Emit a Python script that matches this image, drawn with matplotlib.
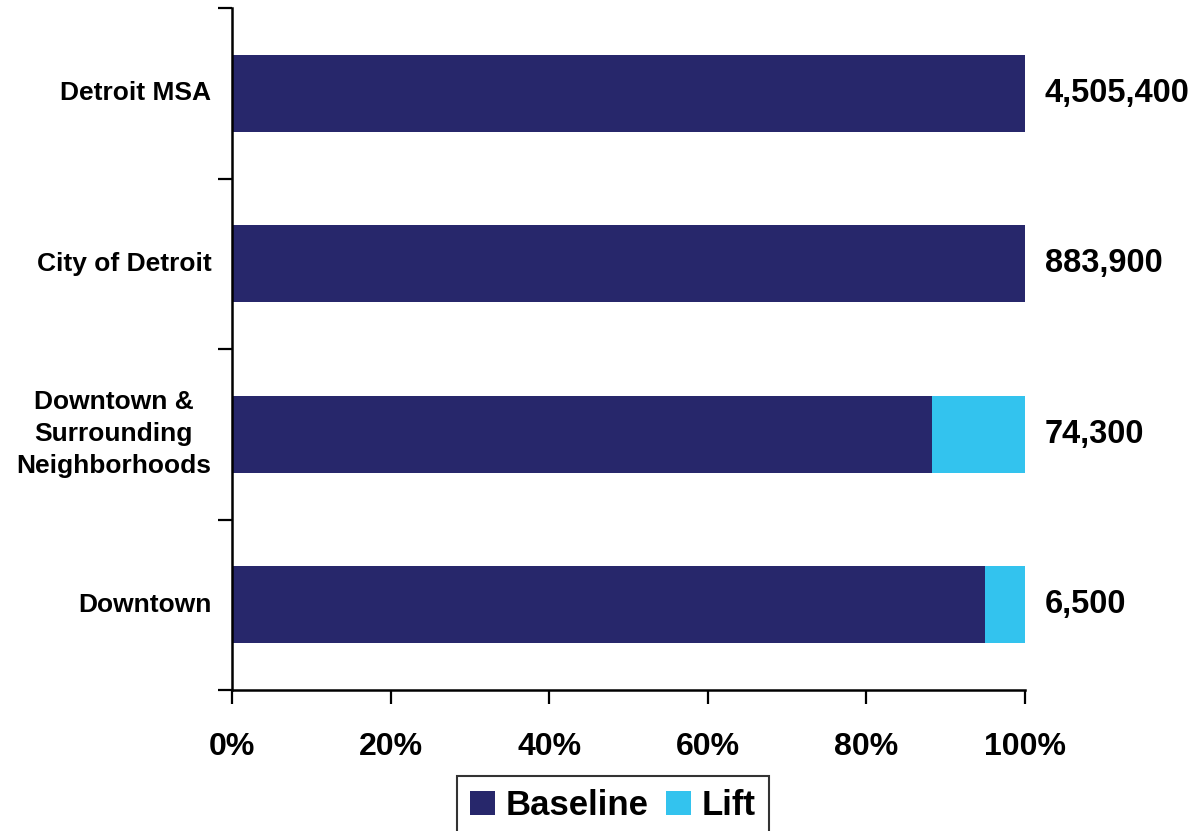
import matplotlib
matplotlib.use("Agg")
import matplotlib.pyplot as plt
from matplotlib.patches import Patch

# Data
categories = ["Downtown", "Downtown &\nSurrounding\nNeighborhoods", "City of Detroit", "Detroit MSA"]
baseline_pct = [95.0, 88.3, 100.0, 100.0]
lift_pct = [5.0, 11.7, 0.0, 0.0]
totals = ["6,500", "74,300", "883,900", "4,505,400"]
x_ticks = [0, 20, 40, 60, 80, 100]
x_tick_labels = ["0%", "20%", "40%", "60%", "80%", "100%"]

BASE_COLOR = "#27276B"
LIFT_COLOR = "#33C3EE"

plt.rcParams["font.family"] = ["Liberation Sans", "DejaVu Sans"]

fig = plt.figure(figsize=(11.94, 8.31), dpi=100)
ax = fig.add_axes([232 / 1194, 1 - 690 / 831, (1025 - 232) / 1194, (690 - 8) / 831])

ypos = list(range(len(categories)))
ax.barh(ypos, baseline_pct, height=0.45, color=BASE_COLOR, label="Baseline")
ax.barh(ypos, lift_pct, left=baseline_pct, height=0.45, color=LIFT_COLOR, label="Lift")

ax.set_xlim(0, 100)
ax.set_ylim(-0.5, len(categories) - 0.5)

# Category boundary ticks on the y axis, labels at bar centres
ax.set_yticks([i - 0.5 for i in range(len(categories) + 1)])
ax.set_yticklabels([])
ax.tick_params(axis="y", which="major", direction="out", length=10, width=1.6)
for i, c in enumerate(categories):
    ax.text(-0.026, i, c, transform=ax.get_yaxis_transform(), ha="right", va="center",
            multialignment="center", fontsize=19, fontweight="bold", linespacing=1.42)

ax.set_xticks(x_ticks)
ax.set_xticklabels(x_tick_labels, fontweight="bold", fontsize=23)
ax.tick_params(axis="x", direction="out", length=10, width=1.6, pad=20)

for s in ["top", "right"]:
    ax.spines[s].set_visible(False)
for s in ["left", "bottom"]:
    ax.spines[s].set_linewidth(1.8)

for i, t in enumerate(totals):
    ax.text(102.5, i, t, ha="left", va="center", fontweight="bold",
            fontsize=23.5, clip_on=False)

handles = [Patch(facecolor=BASE_COLOR, label="Baseline"), Patch(facecolor=LIFT_COLOR, label="Lift")]
leg = fig.legend(handles=handles, loc="upper left", bbox_to_anchor=(457 / 1194, 1 - 776 / 831),
                 ncol=2, frameon=True, fancybox=False, prop={"weight": "bold", "size": 25},
                 handlelength=0.72, handleheight=0.72, handletextpad=0.3, columnspacing=0.5,
                 borderpad=0.38, borderaxespad=0)
leg.get_frame().set_edgecolor("black")
leg.get_frame().set_linewidth(1.5)

fig.savefig("out.png", dpi=100)
